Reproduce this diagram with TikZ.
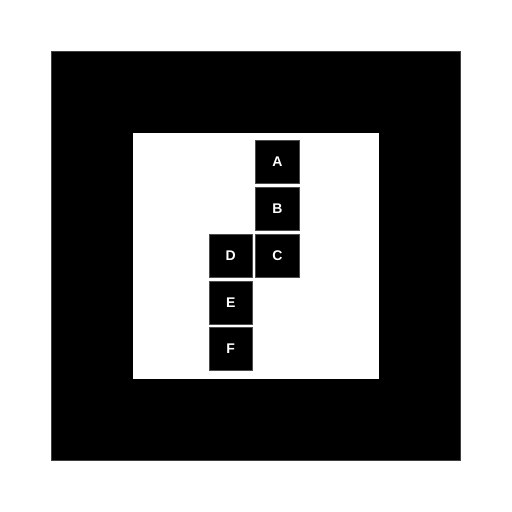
\documentclass[tikz,border=0pt]{standalone}
\usepackage{fontspec}
\setmainfont{Liberation Sans}
\begin{document}
\begin{tikzpicture}[x=1pt,y=-1pt,
  cell/.style={draw=black!70,line width=0.6pt,fill=black,text=white,minimum size=43.5pt,inner sep=0pt,font=\fontsize{14}{14}\selectfont\bfseries}]
\useasboundingbox (0,0) rectangle (512,512);
\fill[white] (0,0) rectangle (512,512);
\draw[draw=black!75,line width=0.6pt,fill=black] (51,51) rectangle (460.5,460.5);
\fill[white] (133,133) rectangle (379,379);
\node[cell] (A) at (277.5,162) {A};
\node[cell] (B) at (277.5,209) {B};
\node[cell] (C) at (277.5,255.7) {C};
\node[cell] (D) at (230.7,255.7) {D};
\node[cell] (E) at (230.7,302.7) {E};
\node[cell] (F) at (230.7,349) {F};
\end{tikzpicture}
\end{document}
